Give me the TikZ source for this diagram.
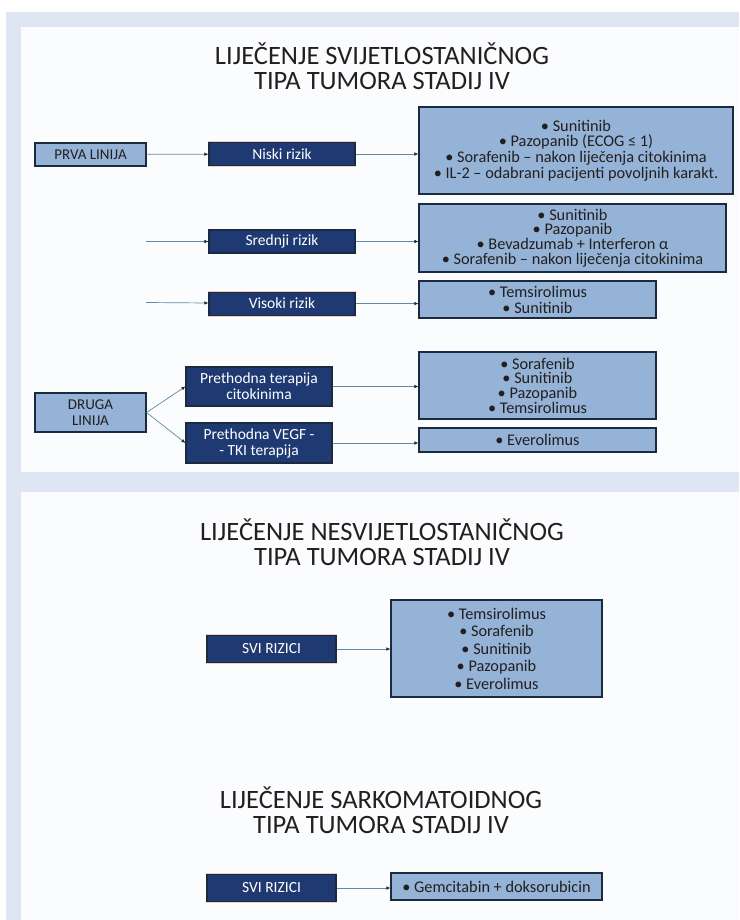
\documentclass[tikz,border=0pt]{standalone}
\usepackage{fontspec}
\setmainfont{Carlito}
\usetikzlibrary{arrows.meta, positioning}
\definecolor{framecolor}{HTML}{DFE6F3}
\definecolor{panelcolor}{HTML}{FBFCFE}
\definecolor{lightbox}{HTML}{95B3D7}
\definecolor{darkbox}{HTML}{1F3A73}
\definecolor{boxedge}{HTML}{1B2A3F}
\definecolor{glowcolor}{HTML}{F5CDBE}
\definecolor{linkcolor}{HTML}{5D8DA6}
\definecolor{textcolor}{HTML}{231F20}

\begin{document}
\begin{tikzpicture}[x=1pt, y=-1pt,
    % Styles
    box/.style={draw=boxedge, line width=1.1pt, inner sep=0, align=center,
        preaction={draw=glowcolor, line width=2.8pt}},
    light box/.style={box, fill=lightbox, text=textcolor, font=\fontsize{16.3}{15.8}\selectfont},
    dark box/.style={box, fill=darkbox, text=white, font=\fontsize{15.5}{16}\selectfont},
    line box/.style={light box, minimum width=111pt, font=\fontsize{15}{16}\selectfont},
    risk box/.style={dark box, minimum width=146pt, minimum height=23pt},
    all box/.style={dark box, minimum width=129pt, minimum height=27pt},
    section title/.style={text=textcolor, align=center, font=\fontsize{26.5}{25}\selectfont},
    link/.style={draw=linkcolor, line width=0.7pt, -{Latex[length=4pt, width=3.5pt, color=black!85]}},
]
    \useasboundingbox (0,0) rectangle (739,920);

    % === Frame and panels ===
    \fill[white] (0,0) rectangle (739,920);
    \fill[framecolor] (6,12) rectangle (739,920);
    \fill[panelcolor] (21,27) rectangle (739,472);
    \fill[panelcolor] (21,492) rectangle (739,920);

    % === Clear cell type ===
    \node[section title] (title-clear) at (382,66) {LIJEČENJE SVIJETLOSTANIČNOG\\TIPA TUMORA STADIJ IV};

    % First line, three risk groups
    \node[line box, minimum height=23pt] (first-line) at (90.5,154.5) {PRVA LINIJA};
    \node[risk box] (low-risk) at (282,154) {Niski rizik};
    \node[risk box] (mid-risk) at (282,241.5) {Srednji rizik};
    \node[risk box, below=38pt of mid-risk] (high-risk) {Visoki rizik};
    \coordinate (mid-start) at (146,241.5);
    \coordinate (high-start) at (146,302.5);

    \node[light box, minimum width=314pt, minimum height=87pt] (low-drugs) at (576,150.5)
        {• Sunitinib\\• Pazopanib (ECOG ≤ 1)\\• Sorafenib – nakon liječenja citokinima\\• IL-2 – odabrani pacijenti povoljnih karakt.};
    \node[light box, minimum width=307pt, minimum height=68pt, font=\fontsize{16.3}{14.7}\selectfont] (mid-drugs) at (572.5,238)
        {• Sunitinib\\• Pazopanib\\• Bevadzumab + Interferon α\\• Sorafenib – nakon liječenja citokinima};
    \node[light box, minimum width=237pt, minimum height=37pt] (high-drugs) at (537.5,299.5)
        {• Temsirolimus\\• Sunitinib};

    \draw[link] (first-line) -- (low-risk);
    \draw[link] (mid-start) -- (mid-risk);
    \draw[link] (high-start) -- (high-risk);
    \draw[link] (low-risk.east) -- (low-drugs.west |- low-risk.east);
    \draw[link] (mid-risk.east) -- (mid-drugs.west |- mid-risk.east);
    \draw[link] (high-risk.east) -- (high-drugs.west |- high-risk.east);

    % Second line, split by prior therapy
    \node[line box, minimum height=39pt] (second-line) at (90.5,412.5) {DRUGA\\LINIJA};
    \node[risk box, minimum height=39pt] (prior-cyto) at (259,386.5) {Prethodna terapija\\citokinima};
    \node[risk box, minimum height=40pt] (prior-vegf) at (259,443) {Prethodna VEGF -\\- TKI terapija};
    \node[light box, minimum width=237pt, minimum height=67pt, font=\fontsize{16.3}{14.7}\selectfont] (cyto-drugs) at (537.5,385.5)
        {• Sorafenib\\• Sunitinib\\• Pazopanib\\• Temsirolimus};
    \node[light box, minimum width=237pt, minimum height=24pt] (vegf-drugs) at (537.5,440)
        {• Everolimus};

    \draw[link] (second-line.east) -- (prior-cyto.west);
    \draw[link] (second-line.east) -- (prior-vegf.west);
    \draw[link] (prior-cyto.east) -- (cyto-drugs.west |- prior-cyto.east);
    \draw[link] (prior-vegf.east) -- (vegf-drugs.west |- prior-vegf.east);

    % === Non-clear cell type ===
    \node[section title] (title-nonclear) at (382,542.5) {LIJEČENJE NESVIJETLOSTANIČNOG\\TIPA TUMORA STADIJ IV};
    \node[all box] (all-risks-a) at (271.5,649) {SVI RIZICI};
    \node[light box, minimum width=211pt, minimum height=97pt, font=\fontsize{16.3}{17.5}\selectfont] (nonclear-drugs) at (496.5,648.5)
        {• Temsirolimus\\• Sorafenib\\• Sunitinib\\• Pazopanib\\• Everolimus};
    \draw[link] (all-risks-a.east) -- (nonclear-drugs.west |- all-risks-a.east);

    % === Sarcomatoid type ===
    \node[section title] (title-sarcoma) at (381,810) {LIJEČENJE SARKOMATOIDNOG\\TIPA TUMORA STADIJ IV};
    \node[all box] (all-risks-b) at (271.5,888) {SVI RIZICI};
    \node[light box, minimum width=211pt, minimum height=27pt] (sarcoma-drugs) at (496.5,886.5)
        {• Gemcitabin + doksorubicin};
    \draw[link] (all-risks-b.east) -- (sarcoma-drugs.west |- all-risks-b.east);
\end{tikzpicture}
\end{document}
